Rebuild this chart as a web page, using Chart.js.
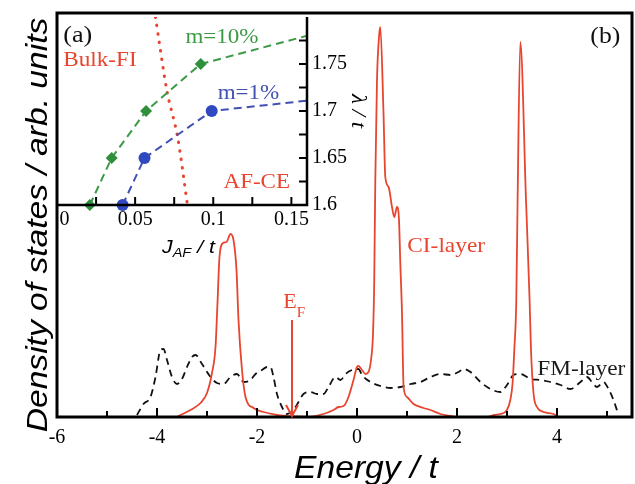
<!DOCTYPE html>
<html>
<head>
<meta charset="utf-8">
<script src="https://cdn.jsdelivr.net/npm/chart.js@4.4.0/dist/chart.umd.min.js"></script>
<style>
html,body{margin:0;padding:0;background:#fff;}
#wrap{position:relative;width:635px;height:484px;}
canvas{position:absolute;left:0;top:0;}
</style>
</head>
<body>
<div id="wrap">
  <canvas id="dos" width="635" height="484"></canvas>
  <canvas id="inset" width="635" height="484"></canvas>
</div>
<script>
// ---- main panel (b): density of states ----
const ciEnergy = [-3.6,-3.53,-3.33,-3.13,-3.0,-2.9,-2.83,-2.79,-2.75,-2.68,-2.61,-2.53,-2.47,-2.41,-2.37,-2.3,-2.23,-2.07,-1.87,-1.6,-1.3,-1.0,
  -0.67,-0.47,-0.37,-0.27,-0.17,-0.07,0.0,0.03,0.1,0.17,0.23,0.28,0.32,0.345,0.366,0.40,0.44,0.466,0.53,0.566,0.632,0.70,0.746,0.80,0.84,0.866,0.90,0.932,
  1.0,1.13,1.33,1.47,1.67,1.87,2.0,2.6,2.75,2.866,3.0,3.066,3.112,3.146,3.186,3.212,3.266,3.38,3.452,3.48,3.532,3.6,3.732,3.932,4.03];
const ciDos = [0,2,7,14,24,44,70,114,160,174,175,183,177,147,97,47,20,9,5,2,0.5,0,
  3,7,10,11,20,37,50,51,47,43,45,57,83,137,237,337,380,390,304,240,230,210,200,210,197,154,104,30,
  20,13,9,7,3,1,0,0,2,3,7,17,34,67,117,217,375,217,117,67,23,10,5,3,0];

const fmEnergy = [-4.4,-4.27,-4.13,-4.03,-3.93,-3.87,-3.8,-3.7,-3.6,-3.5,-3.4,-3.3,-3.23,-3.1,-2.93,-2.8,-2.67,-2.53,-2.4,-2.27,-2.13,-2.03,
  -1.9,-1.8,-1.73,-1.67,-1.6,-1.5,-1.4,-1.27,-1.17,-1.07,-0.93,-0.8,-0.67,-0.57,-0.43,-0.33,-0.23,-0.1,0.03,0.1,0.27,0.47,0.67,0.87,
  1.07,1.27,1.47,1.67,1.87,2.03,2.13,2.27,2.47,2.67,2.87,3.0,3.13,3.27,3.47,3.67,3.87,4.07,4.27,4.47,4.6,4.7,4.8,4.93,5.03,5.13,5.23];
const fmDos = [2,13,20,40,67,68,57,40,33,38,50,60,62,53,40,34,33,40,43,35,37,43,
  47,50,50,40,23,10,3,7,15,23,25,23,23,30,40,37,43,47,48,42,35,31,29,30,
  33,35,40,43,42,45,48,45,35,28,25,32,42,43,38,37,35,32,28,35,40,35,30,35,28,17,2];

const fermiEnergy = -1.3;
const fermiArrow = [97, 0];

const energyMarks = [-5,-4,-3,-2,-1,0,1,2,3,4,5];
const energyLabels = [-6,-4,-2,0,2,4];

// ---- inset (a): phase diagram ----
const jM10 = [0.021,0.035,0.057,0.092,0.16];
const lamM10 = [1.6,1.65,1.7,1.75,1.78];
const jM1 = [0.042,0.056,0.099,0.16];
const lamM1 = [1.6,1.65,1.7,1.711];
const jBoundary = [0.063,0.0705,0.0769,0.0835];
const lamBoundary = [1.8,1.72,1.675,1.6];

const jMarks = [0.025,0.05,0.075,0.1,0.125,0.15];
const jLabels = [0,0.05,0.1,0.15];
const lamMarks = [1.625,1.65,1.675,1.7,1.725,1.75,1.775];
const lamLabels = [1.6,1.65,1.7,1.75];

const RED = '#e8452f';
const SERIF = "'Liberation Serif', 'Times New Roman', serif";
const SANS = "'Liberation Sans', Arial, sans-serif";

function pts(xs, ys){ return xs.map((v,i)=>({x:v, y:ys[i]})); }

function stretchText(ctx, text, x, y, font, color, sx, align){
  ctx.save();
  ctx.translate(x, y);
  ctx.scale(sx, 1);
  ctx.font = font;
  ctx.fillStyle = color;
  ctx.textAlign = align || 'left';
  ctx.textBaseline = 'alphabetic';
  ctx.fillText(text, 0, 0);
  ctx.restore();
}

const mainDecor = {
  id: 'mainDecor',
  afterDraw(chart){
    const {ctx, chartArea:a, scales:{x, y}} = chart;
    ctx.save();
    // frame
    ctx.strokeStyle = '#000';
    ctx.lineWidth = 3;
    ctx.strokeRect(a.left, a.top, a.right - a.left, a.bottom - a.top);
    // inward ticks
    ctx.lineWidth = 2;
    energyMarks.forEach(v=>{
      const px = x.getPixelForValue(v);
      const len = v % 2 === 0 ? 9 : 6;
      ctx.beginPath(); ctx.moveTo(px, a.bottom); ctx.lineTo(px, a.bottom - len); ctx.stroke();
    });
    // arrow head at E_F
    const ax = x.getPixelForValue(fermiEnergy), ay = y.getPixelForValue(0);
    ctx.strokeStyle = RED; ctx.lineWidth = 2;
    ctx.beginPath(); ctx.moveTo(ax - 6, ay - 12); ctx.lineTo(ax, ay - 1); ctx.lineTo(ax + 6, ay - 12); ctx.stroke();
    ctx.restore();

    // labels
    stretchText(ctx, 'CI-layer', x.getPixelForValue(1.006), y.getPixelForValue(165), `22px ${SERIF}`, RED, 1.06);
    stretchText(ctx, 'FM-layer', x.getPixelForValue(3.606), y.getPixelForValue(42), `22px ${SERIF}`, '#1a1a1a', 1.06);
    stretchText(ctx, '(b)', x.getPixelForValue(5.266), y.getPixelForValue(374), `24px ${SERIF}`, '#111', 1.07, 'right');
    const ex = x.getPixelForValue(-1.474);
    stretchText(ctx, 'E', ex, y.getPixelForValue(108.7), `22px ${SERIF}`, RED, 1.0);
    ctx.font = `22px ${SERIF}`;
    const ew = ctx.measureText('E').width;
    stretchText(ctx, 'F', ex + ew, y.getPixelForValue(99.7), `15px ${SERIF}`, RED, 1.0);

    // axis titles
    stretchText(ctx, 'Energy / t', 366, 478, `italic 32px ${SANS}`, '#000', 1.05, 'center');
    ctx.save();
    ctx.translate(47, 225);
    ctx.rotate(-Math.PI / 2);
    ctx.scale(1.12, 1);
    ctx.font = `italic 30px ${SANS}`;
    ctx.fillStyle = '#000';
    ctx.textAlign = 'center';
    ctx.textBaseline = 'alphabetic';
    ctx.fillText('Density of states / arb. units', 0, 0);
    ctx.restore();
  }
};

new Chart(document.getElementById('dos'), {
  type: 'line',
  data: {
    datasets: [
      {data: pts(ciEnergy, ciDos), borderColor: RED, borderWidth: 1.8, pointRadius: 0,
       cubicInterpolationMode: 'monotone', tension: 0.3, fill: false},
      {data: [{x: fermiEnergy, y: fermiArrow[0]}, {x: fermiEnergy, y: fermiArrow[1]}],
       borderColor: RED, borderWidth: 2, pointRadius: 0, fill: false},
      {data: pts(fmEnergy, fmDos), borderColor: '#111', borderWidth: 1.8, borderDash: [7, 5], pointRadius: 0,
       cubicInterpolationMode: 'monotone', tension: 0.3, fill: false}
    ]
  },
  options: {
    responsive: false,
    animation: false,
    layout: {padding: {left: 57, top: 13, right: 3, bottom: 0}},
    plugins: {legend: {display: false}, tooltip: {enabled: false}},
    scales: {
      x: {
        type: 'linear', min: -6, max: 5.5,
        grid: {display: false, drawTicks: false},
        border: {display: false},
        afterBuildTicks: s => { s.ticks = energyLabels.map(v => ({value: v})); },
        afterFit: s => { s.height = 67; },
        ticks: {padding: 9, color: '#000', maxRotation: 0, autoSkip: false,
                font: {family: SERIF, size: 20}, callback: v => String(v)}
      },
      y: {display: false, min: 0, max: 404}
    }
  },
  plugins: [mainDecor]
});

const insetDecor = {
  id: 'insetDecor',
  afterDraw(chart){
    const {ctx, chartArea:a, scales:{x, y}} = chart;
    ctx.save();
    ctx.strokeStyle = '#000';
    ctx.lineWidth = 2.5;
    ctx.beginPath();
    ctx.moveTo(a.left, a.bottom); ctx.lineTo(a.right, a.bottom); ctx.lineTo(a.right, a.top);
    ctx.stroke();
    ctx.lineWidth = 2;
    jMarks.forEach(v=>{
      const px = x.getPixelForValue(v);
      ctx.beginPath(); ctx.moveTo(px, a.bottom); ctx.lineTo(px, a.bottom - 8); ctx.stroke();
    });
    lamMarks.forEach(v=>{
      const py = y.getPixelForValue(v);
      ctx.beginPath(); ctx.moveTo(a.right, py); ctx.lineTo(a.right - 8, py); ctx.stroke();
    });
    ctx.restore();

    stretchText(ctx, '(a)', x.getPixelForValue(0.004), y.getPixelForValue(1.773), `24px ${SERIF}`, '#111', 1.09);
    stretchText(ctx, 'Bulk-FI', x.getPixelForValue(0.004), y.getPixelForValue(1.748), `20px ${SERIF}`, RED, 1.16);
    stretchText(ctx, 'm=10%', x.getPixelForValue(0.0822), y.getPixelForValue(1.772), `20px ${SERIF}`, '#3c9a46', 1.15);
    stretchText(ctx, 'm=1%', x.getPixelForValue(0.1028), y.getPixelForValue(1.7125), `20px ${SERIF}`, '#4050b3', 1.15);
    stretchText(ctx, 'AF-CE', x.getPixelForValue(0.1066), y.getPixelForValue(1.6177), `20px ${SERIF}`, RED, 1.15);

    // J_AF / t
    ctx.save();
    ctx.translate(162, 253);
    ctx.scale(1.12, 1);
    ctx.fillStyle = '#000';
    ctx.textBaseline = 'alphabetic';
    ctx.font = `italic 19px ${SANS}`;
    ctx.fillText('J', 0, 0);
    let w = ctx.measureText('J').width;
    ctx.font = `italic 13px ${SANS}`;
    ctx.fillText('AF', w, 4);
    w += ctx.measureText('AF').width;
    ctx.font = `italic 19px ${SANS}`;
    ctx.fillText(' / t', w, 0);
    ctx.restore();

    // lambda / t
    ctx.save();
    ctx.translate(357, 111);
    ctx.rotate(Math.PI / 2);
    ctx.scale(1.15, 1);
    ctx.font = `italic 20px ${SERIF}`;
    ctx.fillStyle = '#000';
    ctx.textAlign = 'center';
    ctx.textBaseline = 'middle';
    ctx.fillText('λ / t', 0, 0);
    ctx.restore();
  }
};

new Chart(document.getElementById('inset'), {
  type: 'line',
  data: {
    datasets: [
      {data: pts(jM10, lamM10), borderColor: '#3c9a46', borderWidth: 2, borderDash: [8, 5],
       pointStyle: 'rectRot', pointRadius: [6, 6, 6, 6, 0], pointBackgroundColor: '#2f8f3a',
       pointBorderColor: '#2f8f3a', pointBorderWidth: 0, tension: 0, clip: false, fill: false},
      {data: pts(jM1, lamM1), borderColor: '#4050b3', borderWidth: 2, borderDash: [8, 5],
       pointStyle: 'circle', pointRadius: [6, 6, 6, 0], pointBackgroundColor: '#3048c0',
       pointBorderColor: '#3048c0', pointBorderWidth: 0, tension: 0, clip: false, fill: false},
      {data: pts(jBoundary, lamBoundary), borderColor: RED, borderWidth: 3, borderDash: [0.5, 8],
       borderCapStyle: 'round', pointRadius: 0, tension: 0.3, fill: false}
    ]
  },
  options: {
    responsive: false,
    animation: false,
    layout: {padding: {left: 57, top: 13, right: 283, bottom: 254}},
    plugins: {legend: {display: false}, tooltip: {enabled: false}},
    scales: {
      x: {
        type: 'linear', min: 0, max: 0.16,
        grid: {display: false, drawTicks: false},
        border: {display: false},
        afterBuildTicks: s => { s.ticks = jLabels.map(v => ({value: v})); },
        afterFit: s => { s.height = 25; },
        ticks: {padding: 3, color: '#000', maxRotation: 0, autoSkip: false,
                font: {family: SERIF, size: 20},
                // the "0" label sits a little right of the corner in the original
                callback: v => v === 0 ? '\u2007 0' : String(v)}
      },
      y: {
        type: 'linear', position: 'right', min: 1.6, max: 1.8,
        grid: {display: false, drawTicks: false},
        border: {display: false},
        afterBuildTicks: s => { s.ticks = lamLabels.map(v => ({value: v})); },
        afterFit: s => { s.width = 45; },
        ticks: {padding: 5, color: '#000', autoSkip: false,
                font: {family: SERIF, size: 20}, callback: v => String(v)}
      }
    }
  },
  plugins: [insetDecor]
});
</script>
</body>
</html>
